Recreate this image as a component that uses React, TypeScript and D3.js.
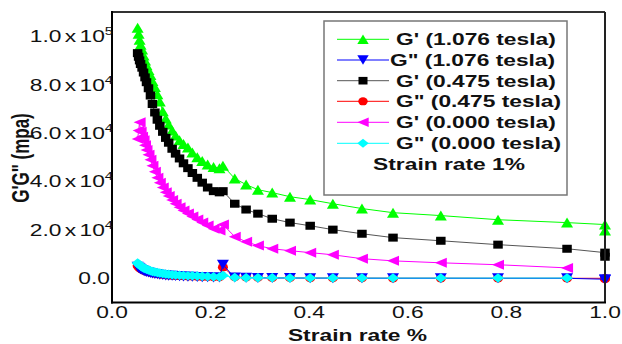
import React from "react";
import * as d3 from "d3";

const strain = [
  0.052, 0.054, 0.056, 0.058, 0.061, 0.064, 0.067, 0.070, 0.074, 0.078, 0.082, 0.087, 0.092, 0.097,
  0.103, 0.109, 0.115, 0.122, 0.129, 0.137, 0.145, 0.154, 0.163, 0.173, 0.183, 0.194, 0.206, 0.218,
  0.225,
  0.249, 0.272, 0.296, 0.325, 0.361, 0.402, 0.448, 0.507, 0.570, 0.667, 0.783, 0.923,
  1.0, 1.0,
];

const gPrime1076 = [
  103500, 101000, 98500, 96500, 94500, 92000, 90000, 88000, 86000, 84000, 81500, 79000, 76000, 73000,
  69000, 66000, 63500, 61000, 59000, 57000, 55500, 54000, 52000, 50000, 48500, 47000, 46000, 45500,
  46500,
  41200, 38700, 36600, 35400, 33700, 32500, 30800, 28800, 27100, 25900, 24200, 23000,
  22200, 19700,
];

const gDouble1076 = [
  4800, 4400, 4000, 3700, 3400, 3100, 2800, 2600, 2400, 2200, 2000, 1800, 1650, 1500,
  1350, 1200, 1100, 1000, 900, 800, 700, 650, 600, 500, 450, 400, 350, 300,
  5600,
  300, 200, 150, 100, 100, 50, 50, 0, 0, 0, 0, 0,
  -400, -700,
];

const gPrime0475 = [
  93000, 91500, 90000, 88500, 87000, 85000, 83000, 81000, 78500, 75500, 72000, 68500, 65500, 63000,
  60500, 58000, 56000, 53500, 51500, 49500, 47500, 45500, 43500, 41500, 39500, 37500, 36000, 35500,
  36000,
  30800, 28400, 26700, 24600, 23000, 21700, 20100, 18400, 16800, 15500, 13900, 12200,
  10600, 8900,
];

const gDouble0475 = [
  5200, 4700, 4300, 3900, 3600, 3300, 3000, 2800, 2600, 2400, 2200, 2000, 1850, 1700,
  1550, 1400, 1300, 1200, 1100, 1000, 900, 850, 800, 700, 650, 600, 550, 500,
  4600,
  500, 400, 300, 250, 200, 150, 100, 100, 50, 50, 0, 0,
  0, -300,
];

const gPrime0000 = [
  57500, 61000, 64500, 60500, 58500, 57000, 55000, 53000, 51000, 49000, 46500, 44000, 41500, 39500,
  37500, 35500, 34000, 32300, 30800, 29300, 28000, 26800, 25500, 24300, 23000, 21800, 20500, 19700,
  22200,
  17200, 15100, 13500, 12200, 11400, 10600, 9700, 8100, 7200, 6400, 5600, 4300,
];

const gDouble0000 = [
  6300, 5900, 5500, 5100, 4700, 4300, 4000, 3700, 3400, 3100, 2800, 2600, 2400, 2200,
  2000, 1800, 1650, 1500, 1400, 1300, 1200, 1100, 1000, 900, 800, 700, 600, 500,
  1200,
  300, 250, 200, 200, 150, 150, 100, 100, 100, 100, 100, 100,
];

const seriesNames = [
  "G' (1.076 tesla)",
  "G\" (1.076 tesla)",
  "G' (0.475 tesla)",
  "G\" (0.475 tesla)",
  "G' (0.000 tesla)",
  "G\" (0.000 tesla)",
];
const seriesColors = ["#00ff00", "#0000ff", "#000000", "#ff0000", "#ff00ff", "#00ffff"];
const lineColors = ["#00ff00", "#0000ff", "#555555", "#ff0000", "#ff00ff", "#00ffff"];
const seriesMarkers = ["up", "down", "square", "circle", "left", "diamond"];
const seriesValues = [gPrime1076, gDouble1076, gPrime0475, gDouble0475, gPrime0000, gDouble0000];
const drawOrder = [0, 2, 4, 3, 1, 5];

const xTicks = [0, 0.2, 0.4, 0.6, 0.8, 1.0];
const yTicks = [0, 20000, 40000, 60000, 80000, 100000];
const xTitle = "Strain rate %";
const yTitle = "G'G\" (mpa)";
const noteText = "Strain rate 1%";

const FONT = "'Liberation Sans', Arial, sans-serif";
const SX = 1.34;

function markerPath(type: string, w: number, h: number): string {
  const a = w / 2, b = h / 2;
  switch (type) {
    case "up":
      return `M0,${-b}L${a},${b}L${-a},${b}Z`;
    case "down":
      return `M0,${b}L${a},${-b}L${-a},${-b}Z`;
    case "left":
      return `M${-a},0L${a},${-b}L${a},${b}Z`;
    case "square":
      return `M${-a},${-b}H${a}V${b}H${-a}Z`;
    case "diamond":
      return `M0,${-b}L${a},0L0,${b}L${-a},0Z`;
    case "circle":
    default:
      return `M${-a},0A${a},${b} 0 1,0 ${a},0A${a},${b} 0 1,0 ${-a},0Z`;
  }
}

const markerSize: Record<string, [number, number]> = {
  up: [12, 10],
  down: [12, 10],
  left: [12, 10],
  square: [9.5, 8],
  circle: [10, 8.5],
  diamond: [12, 9.5],
};

function STxt(props: {
  x: number;
  y: number;
  anchor?: string;
  size?: number;
  weight?: string;
  rotate?: number;
  sx?: number;
  children: React.ReactNode;
}) {
  const { x, y, anchor = "start", size = 17, weight = "normal", rotate = 0, sx = SX, children } = props;
  return (
    <g transform={`translate(${x},${y}) scale(${sx},1) rotate(${rotate})`}>
      <text
        textAnchor={anchor}
        fontSize={size}
        fontWeight={weight}
        fontFamily={FONT}
        fill="#111"
      >
        {children}
      </text>
    </g>
  );
}

export default function App() {
  const W = 622, H = 344;
  const left = 112, right = 605, top = 12, bottom = 302.5;
  const x = d3.scaleLinear().domain([0, 1]).range([left, right]);
  const y = d3.scaleLinear().domain([-10000, 110000]).range([bottom, top]);

  const line = d3
    .line<[number, number]>()
    .x((d) => x(d[0]))
    .y((d) => y(d[1]));

  const fmtY = (v: number) => {
    if (v === 0) return { mant: "0.0", exp: "" };
    const e = Math.floor(Math.log10(Math.abs(v)));
    const m = v / Math.pow(10, e);
    return { mant: d3.format(".1f")(m), exp: String(e) };
  };

  const legX1 = 337, legX2 = 389, legMid = 363;
  const legRowY = [39.3, 60, 80.7, 101.3, 122.3, 143.3];
  const legTextX = [396, 390, 396, 396, 396, 396];

  return (
    <svg
      width={W}
      height={H}
      style={{ position: "absolute", left: 0, top: 0, background: "#fff" }}
    >
      <rect x={0} y={0} width={W} height={H} fill="#fff" />

      {/* series */}
      {drawOrder.map((si) => {
        const vals = seriesValues[si];
        const pts: [number, number][] = vals.map((v, i) => [strain[i], v]);
        const [mw, mh] = markerSize[seriesMarkers[si]];
        return (
          <g key={si}>
            <path d={line(pts) || ""} fill="none" stroke={lineColors[si]} strokeWidth={1} />
            {pts.map((p, i) => (
              <path
                key={i}
                transform={`translate(${x(p[0])},${y(p[1])})`}
                d={markerPath(seriesMarkers[si], mw, mh)}
                fill={seriesColors[si]}
              />
            ))}
          </g>
        );
      })}

      {/* frame */}
      <line x1={left} y1={top} x2={right} y2={top} stroke="#333" strokeWidth={2} />
      <line x1={right} y1={top} x2={right} y2={bottom} stroke="#222" strokeWidth={2} />
      <line x1={left} y1={top - 1} x2={left} y2={bottom + 1} stroke="#000" strokeWidth={2} />
      <line x1={left - 1} y1={bottom} x2={right + 1} y2={bottom} stroke="#000" strokeWidth={2} />

      {/* y tick labels */}
      {yTicks.map((t) => {
        const f = fmtY(t);
        return (
          <STxt key={t} x={t === 0 ? 110 : 113} y={y(t) + 6} anchor="end" size={17}>
            {f.mant}
            {f.exp && (
              <>
                <tspan dx={2.5}>x</tspan>
                <tspan dx={2.5}>10</tspan>
                <tspan fontSize={11} dy={-7}>
                  {f.exp}
                </tspan>
              </>
            )}
          </STxt>
        );
      })}

      {/* x tick labels */}
      {xTicks.map((t) => (
        <STxt key={t} x={x(t)} y={317.5} anchor="middle" size={17}>
          {d3.format(".1f")(t)}
        </STxt>
      ))}

      {/* axis titles */}
      <STxt x={357.5} y={340.5} anchor="middle" size={17} weight="bold">
        {xTitle}
      </STxt>
      <STxt x={29} y={158} anchor="middle" size={17} weight="bold" rotate={-90} sx={1.4}>
        {yTitle}
      </STxt>

      {/* legend */}
      <rect x={324} y={21} width={243} height={174} fill="#fff" stroke="#777" strokeWidth={1.5} />
      {seriesNames.map((name, i) => {
        const ly = legRowY[i];
        const [mw, mh] = markerSize[seriesMarkers[i]];
        return (
          <g key={name}>
            <line x1={legX1} y1={ly} x2={legX2} y2={ly} stroke={lineColors[i]} strokeWidth={1} />
            <path
              transform={`translate(${legMid},${ly})`}
              d={markerPath(seriesMarkers[i], mw * 0.95, mh * 0.95)}
              fill={seriesColors[i]}
            />
            <STxt x={legTextX[i]} y={ly + 6} size={17} weight="bold">
              {name}
            </STxt>
          </g>
        );
      })}
      <STxt x={449} y={170} anchor="middle" size={17} weight="bold">
        {noteText}
      </STxt>
    </svg>
  );
}
